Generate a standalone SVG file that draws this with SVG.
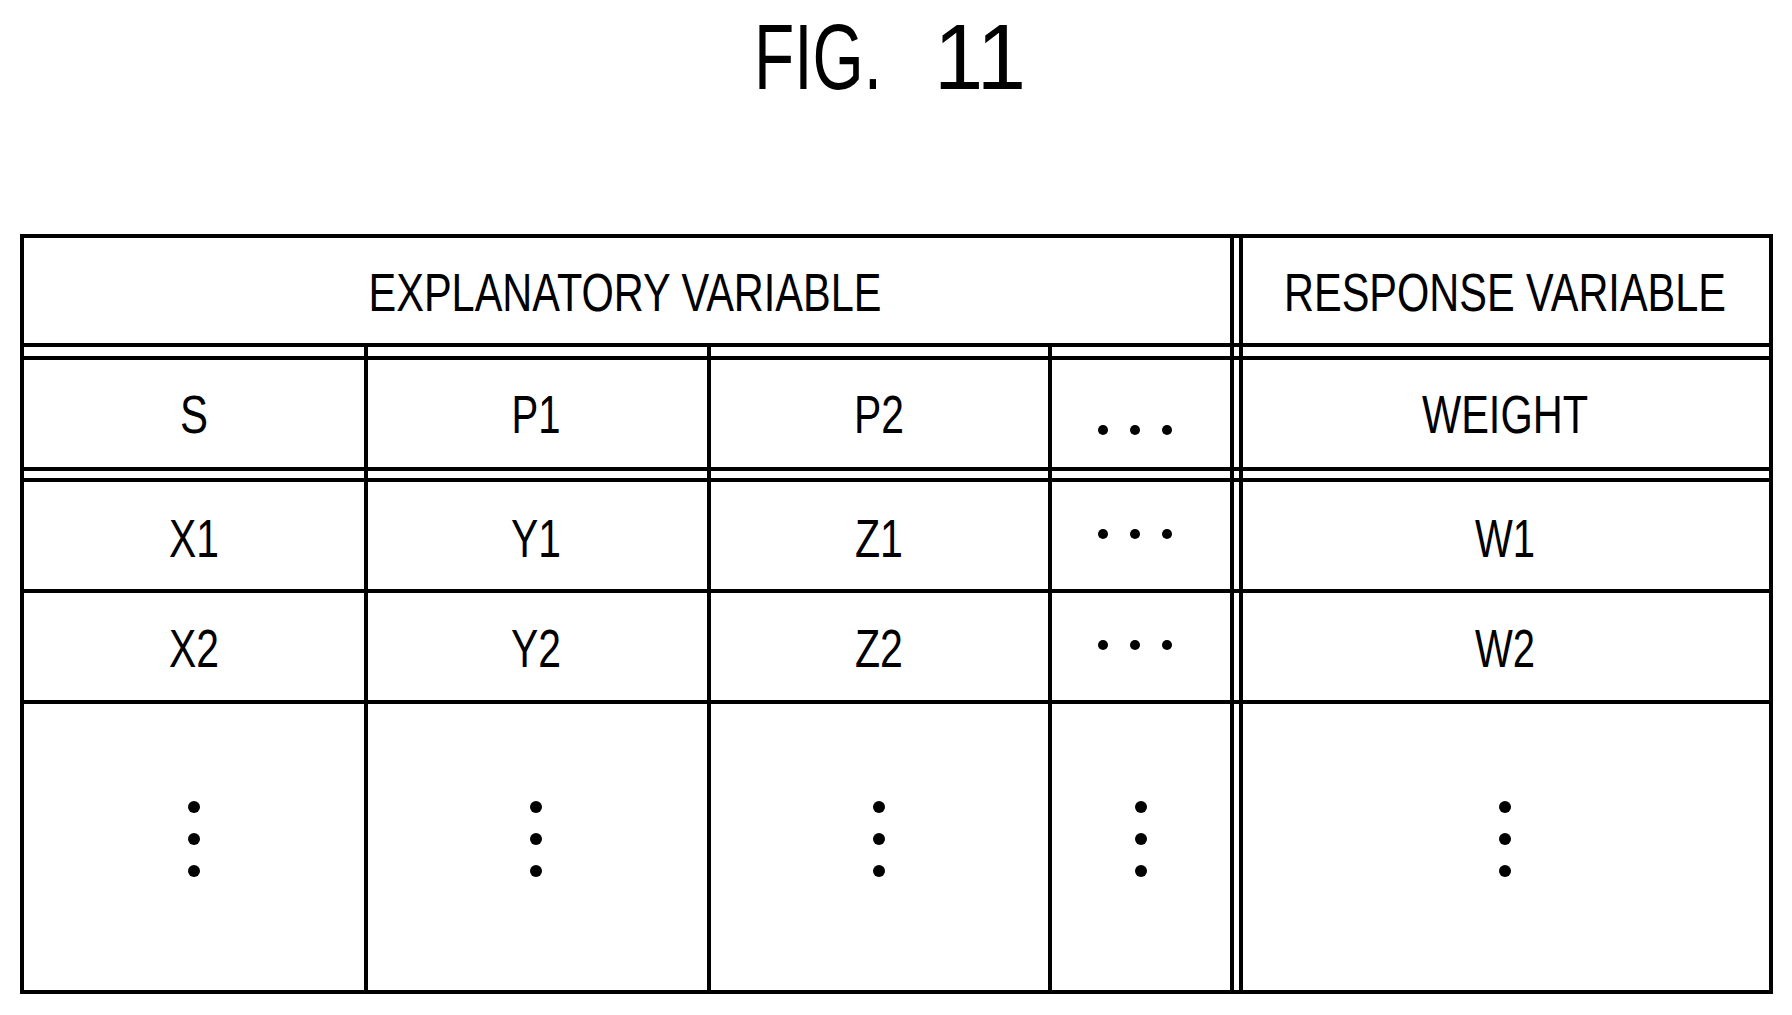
<svg xmlns="http://www.w3.org/2000/svg" width="1792" height="1015" viewBox="0 0 1792 1015">
<style>
.t{font-family:"Liberation Sans",Arial,sans-serif;font-size:54px;text-anchor:middle;fill:#000}
.l{stroke:#000;stroke-width:4;fill:none}
.d{fill:#000}
</style>
<rect width="1792" height="1015" fill="#fff"/>
<g id="title" style="font-family:'Liberation Sans',Arial,sans-serif;font-size:92px;text-anchor:middle">
<text x="818" y="89" textLength="128" lengthAdjust="spacingAndGlyphs">FIG.</text>
<text x="980" y="89" textLength="92" lengthAdjust="spacingAndGlyphs">11</text>
</g>
<g id="grid">
<rect class="l" x="22" y="236" width="1749" height="756" stroke-width="4.5"/>
<line class="l" x1="22" y1="345" x2="1771" y2="345" stroke-width="5"/>
<line class="l" x1="22" y1="358" x2="1771" y2="358" stroke-width="5"/>
<line class="l" x1="22" y1="469" x2="1771" y2="469" stroke-width="5"/>
<line class="l" x1="22" y1="480" x2="1771" y2="480" stroke-width="5"/>
<line class="l" x1="22" y1="591" x2="1771" y2="591"/>
<line class="l" x1="22" y1="702" x2="1771" y2="702"/>
<line class="l" x1="366" y1="345" x2="366" y2="992" stroke-width="3.5"/>
<line class="l" x1="709" y1="345" x2="709" y2="992" stroke-width="3.5"/>
<line class="l" x1="1050" y1="345" x2="1050" y2="992" stroke-width="3.5"/>
<line class="l" x1="1232" y1="236" x2="1232" y2="992" stroke-width="3.5"/>
<line class="l" x1="1241" y1="236" x2="1241" y2="992" stroke-width="3.5"/>
</g>
<g id="texts">
<text class="t" x="625" y="311" textLength="513" lengthAdjust="spacingAndGlyphs">EXPLANATORY VARIABLE</text>
<text class="t" x="1505" y="311" textLength="442" lengthAdjust="spacingAndGlyphs">RESPONSE VARIABLE</text>
<text class="t" x="194" y="433" textLength="28" lengthAdjust="spacingAndGlyphs">S</text>
<text class="t" x="536" y="433" textLength="49" lengthAdjust="spacingAndGlyphs">P1</text>
<text class="t" x="879" y="433" textLength="50" lengthAdjust="spacingAndGlyphs">P2</text>
<text class="t" x="1505" y="433" textLength="166" lengthAdjust="spacingAndGlyphs">WEIGHT</text>
<text class="t" x="194" y="557" textLength="50" lengthAdjust="spacingAndGlyphs">X1</text>
<text class="t" x="536" y="557" textLength="50" lengthAdjust="spacingAndGlyphs">Y1</text>
<text class="t" x="879" y="557" textLength="48" lengthAdjust="spacingAndGlyphs">Z1</text>
<text class="t" x="1505" y="557" textLength="60" lengthAdjust="spacingAndGlyphs">W1</text>
<text class="t" x="194" y="667" textLength="50" lengthAdjust="spacingAndGlyphs">X2</text>
<text class="t" x="536" y="667" textLength="50" lengthAdjust="spacingAndGlyphs">Y2</text>
<text class="t" x="879" y="667" textLength="48" lengthAdjust="spacingAndGlyphs">Z2</text>
<text class="t" x="1505" y="667" textLength="60" lengthAdjust="spacingAndGlyphs">W2</text>
</g>
<g id="dots">
<circle class="d" cx="1103" cy="430" r="5"/><circle class="d" cx="1135" cy="430" r="5"/><circle class="d" cx="1167" cy="430" r="5"/>
<circle class="d" cx="1103" cy="534" r="5"/><circle class="d" cx="1135" cy="534" r="5"/><circle class="d" cx="1167" cy="534" r="5"/>
<circle class="d" cx="1103" cy="645" r="5"/><circle class="d" cx="1135" cy="645" r="5"/><circle class="d" cx="1167" cy="645" r="5"/>
<g id="vdots">
<circle class="d" cx="194" cy="807" r="6"/><circle class="d" cx="194" cy="839" r="6"/><circle class="d" cx="194" cy="871" r="6"/>
<circle class="d" cx="536" cy="807" r="6"/><circle class="d" cx="536" cy="839" r="6"/><circle class="d" cx="536" cy="871" r="6"/>
<circle class="d" cx="879" cy="807" r="6"/><circle class="d" cx="879" cy="839" r="6"/><circle class="d" cx="879" cy="871" r="6"/>
<circle class="d" cx="1141" cy="807" r="6"/><circle class="d" cx="1141" cy="839" r="6"/><circle class="d" cx="1141" cy="871" r="6"/>
<circle class="d" cx="1505" cy="807" r="6"/><circle class="d" cx="1505" cy="839" r="6"/><circle class="d" cx="1505" cy="871" r="6"/>
</g>
</g>
</svg>
